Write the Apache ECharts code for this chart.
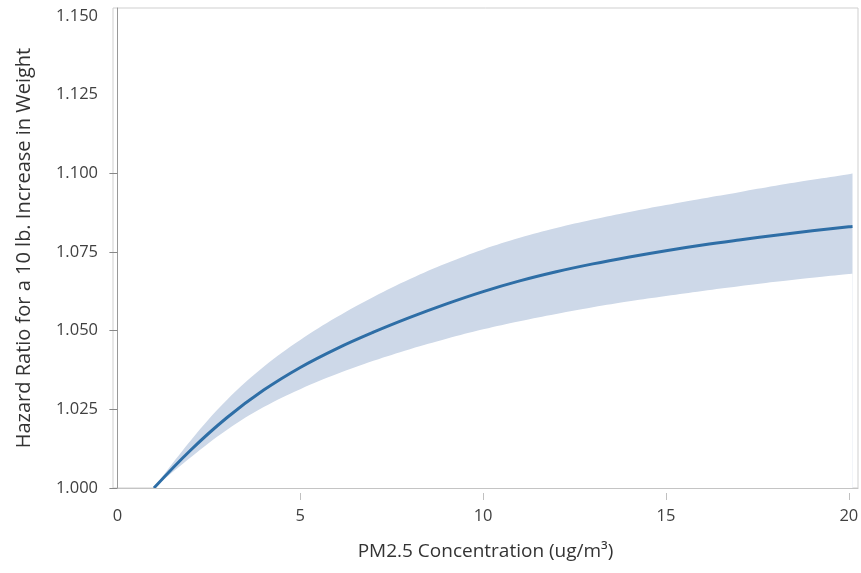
<!DOCTYPE html>
<html>
<head>
<meta charset="utf-8">
<script src="https://cdn.jsdelivr.net/npm/echarts@6/dist/echarts.min.js"></script>
<style>
  html, body { margin: 0; padding: 0; background: #fff; }
  #chart { width: 861px; height: 573px; }
</style>
</head>
<body>
<div id="chart"></div>
<script>
// PM2.5 concentration (ug/m3)
const pm25 = [1, 2, 3, 4, 5, 6, 7, 8, 9, 10, 11, 12, 13, 14, 15, 16, 17, 18, 19, 20, 20.1];
// Hazard ratio estimate
const hazardRatio = [1.000, 1.0120, 1.0224, 1.0311, 1.0383, 1.0443, 1.0495, 1.0542, 1.0585, 1.0624,
  1.0658, 1.0687, 1.0712, 1.0734, 1.0754, 1.0772, 1.0788, 1.0803, 1.0817, 1.0830, 1.0831];
// Upper confidence limit
const upperCI = [1.000, 1.0150, 1.0280, 1.0385, 1.0470, 1.0543, 1.0607, 1.0664, 1.0714, 1.0758,
  1.0795, 1.0826, 1.0853, 1.0877, 1.0899, 1.0920, 1.0940, 1.0960, 1.0979, 1.0997, 1.0999];
// Lower confidence limit
const lowerCI = [1.000, 1.0097, 1.0185, 1.0257, 1.0314, 1.0362, 1.0404, 1.0441, 1.0474, 1.0504,
  1.0530, 1.0553, 1.0574, 1.0593, 1.0610, 1.0626, 1.0641, 1.0655, 1.0668, 1.0680, 1.0681];
// Tick labels
const xTicks = [0, 5, 10, 15, 20];
const xTickMarks = [5, 10, 15, 20];
const yTicks = [1.000, 1.025, 1.050, 1.075, 1.100, 1.125, 1.150];
const yTickMarks = [1.000, 1.025, 1.050, 1.075, 1.100];

const upperData = pm25.map((x, i) => [x, upperCI[i]]);
const lowerData = pm25.map((x, i) => [x, lowerCI[i]]);
const meanData = pm25.map((x, i) => [x, hazardRatio[i]]);

const FONT = 'Open Sans';
const chart = echarts.init(document.getElementById('chart'), null, { renderer: 'canvas' });
chart.setOption({
  animation: false,
  backgroundColor: '#ffffff',
  grid: {
    left: 113, right: 3, top: 8, bottom: 85,
    show: true, borderColor: '#cfcfcf', borderWidth: 1,
    containLabel: false, outerBoundsMode: 'none'
  },
  xAxis: [
    {
      type: 'value', min: -0.12, max: 20.25, z: 10,
      axisLine: { show: true, lineStyle: { color: '#c4c4c4', width: 1.2 } },
      axisTick: { show: false },
      axisLabel: { show: false },
      splitLine: { show: false },
      name: 'PM2.5 Concentration (ug/m³)',
      nameLocation: 'middle', nameGap: 54,
      nameTextStyle: { fontFamily: FONT, fontSize: 19, color: '#333' }
    },
    {
      type: 'value', min: -0.12, max: 20.25, position: 'bottom', offset: 5,
      axisLine: { show: false },
      axisTick: { show: true, length: 7, customValues: xTickMarks, lineStyle: { color: '#c0c0c0' } },
      axisLabel: { customValues: xTicks, margin: 15, fontFamily: FONT, fontSize: 16.5, color: '#404040' },
      splitLine: { show: false }
    }
  ],
  yAxis: {
    type: 'value', min: 1, max: 1.1525, z: 10,
    axisLine: { show: true, lineStyle: { color: '#999', width: 1 } },
    axisTick: { show: true, length: 8, customValues: yTickMarks, lineStyle: { color: '#888' } },
    axisLabel: {
      customValues: yTicks, margin: 15, fontFamily: FONT, fontSize: 16.5, color: '#404040',
      formatter: v => v.toFixed(3)
    },
    splitLine: { show: false },
    name: 'Hazard Ratio for a 10 lb. Increase in Weight',
    nameLocation: 'middle', nameGap: 79,
    nameTextStyle: { fontFamily: FONT, fontSize: 20, color: '#333' }
  },
  series: [
    {
      type: 'line', data: upperData, smooth: 0.4, z: 2,
      symbol: 'none', lineStyle: { width: 0, opacity: 0 }, silent: true,
      areaStyle: { color: '#cdd8e8', opacity: 1, origin: 'start' }
    },
    {
      type: 'line', data: lowerData, smooth: 0.4, z: 3,
      symbol: 'none', lineStyle: { width: 0, opacity: 0 }, silent: true,
      areaStyle: { color: '#ffffff', opacity: 1, origin: 'start' }
    },
    {
      type: 'line', data: meanData, smooth: 0.4, symbol: 'none', z: 4,
      lineStyle: { color: '#2e6ea6', width: 3 }
    }
  ]
});
</script>
</body>
</html>
